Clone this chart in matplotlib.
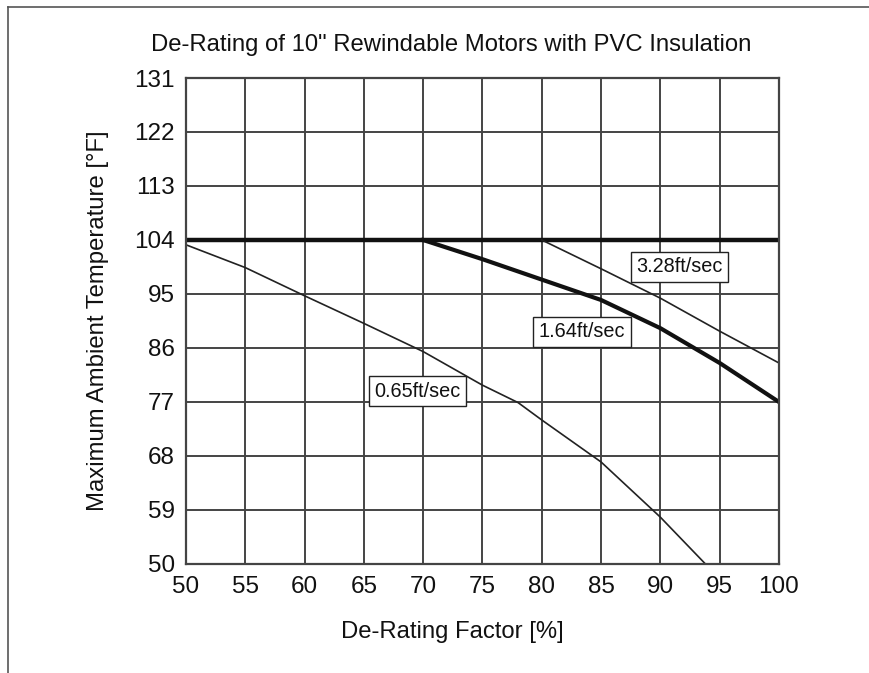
import matplotlib.pyplot as plt
from matplotlib.lines import Line2D

plt.rcParams['font.family'] = ['Liberation Sans', 'DejaVu Sans']

# limit line at 104 F
limit_x = [50, 100]
limit_y = [104, 104]

# 1.64 ft/sec (thick)
v164_x = [70, 75, 80, 85, 90, 95, 100]
v164_y = [104, 100.8, 97.4, 94.0, 89.3, 83.5, 77.0]

# 3.28 ft/sec
v328_x = [80, 85, 90, 95, 100]
v328_y = [104, 99.2, 94.3, 88.8, 83.5]

# 0.65 ft/sec
v065_x = [50, 55, 60, 65, 70, 75, 78, 80, 85, 90, 93.8]
v065_y = [103.2, 99.4, 94.7, 90.1, 85.4, 79.8, 76.9, 74.0, 67.0, 57.8, 50]

labels = ["3.28ft/sec", "1.64ft/sec", "0.65ft/sec"]
label_x = [91.6, 83.4, 69.5]
label_y = [99.5, 88.7, 78.8]

xticks = list(range(50, 101, 5))
yticks = list(range(50, 132, 9))

fig = plt.figure(figsize=(8.69, 6.73), dpi=100)
ax = fig.add_axes([0.2140, 0.1620, 0.6824, 0.7221])

grid_col = '#444444'
ax.set_xlim(50, 100)
ax.set_ylim(50, 131)
ax.set_xticks(xticks)
ax.set_yticks(yticks)
ax.grid(True, color=grid_col, linewidth=1.4)
ax.set_axisbelow(True)
for s in ax.spines.values():
    s.set_color(grid_col)
    s.set_linewidth(1.6)
ax.tick_params(length=0, labelsize=17.5, colors='#111111')
ax.tick_params(axis='x', pad=9)
ax.tick_params(axis='y', pad=8)

ax.plot(limit_x, limit_y, color='#111111', linewidth=3.2, solid_capstyle='butt', clip_on=False)
ax.plot(v164_x, v164_y, color='#111111', linewidth=3.0)
ax.plot(v328_x, v328_y, color='#222222', linewidth=1.2)
ax.plot(v065_x, v065_y, color='#222222', linewidth=1.2)

for t, lx, ly in zip(labels, label_x, label_y):
    ax.text(lx, ly, t, fontsize=14.3, ha='center', va='center', color='#111111',
            bbox=dict(boxstyle='square,pad=0.28', facecolor='white',
                      edgecolor='#222222', linewidth=1.0))

fig.text(451 / 869, 1 - 45 / 673, 'De-Rating of 10" Rewindable Motors with PVC Insulation',
         fontsize=17.2, ha='center', va='center', color='#111111')
fig.text(452 / 869, 1 - 632 / 673, 'De-Rating Factor [%]',
         fontsize=17.2, ha='center', va='center', color='#111111')
fig.text(98 / 869, 1 - 321 / 673, 'Maximum Ambient Temperature [°F]',
         fontsize=17.2, ha='center', va='center', rotation=90, color='#111111')

# outer frame (top and left edges only)
fig.add_artist(Line2D([8 / 869, 1], [1 - 7 / 673, 1 - 7 / 673],
                      transform=fig.transFigure, color='#555555', linewidth=1.2))
fig.add_artist(Line2D([8 / 869, 8 / 869], [0, 1 - 7 / 673],
                      transform=fig.transFigure, color='#555555', linewidth=1.2))

plt.savefig('out.png', dpi=100)
